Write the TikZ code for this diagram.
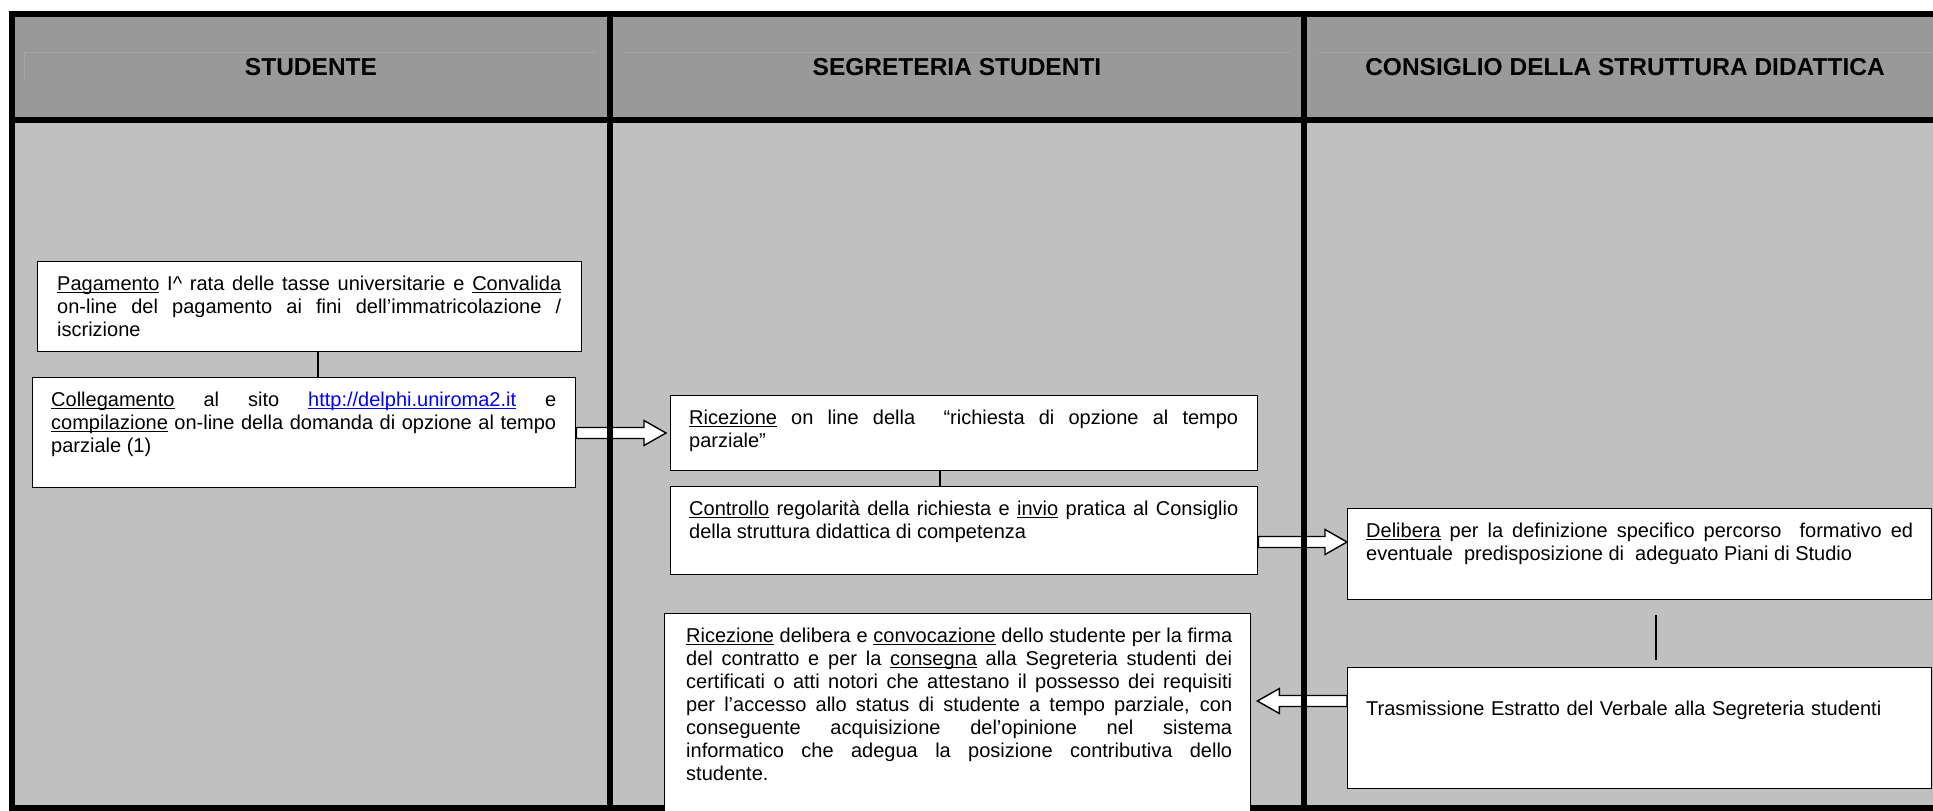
\documentclass[tikz,border=0pt]{standalone}
\usepackage{fontspec}
\setmainfont{Liberation Sans}
\usetikzlibrary{calc}
\definecolor{hdr}{HTML}{999999}
\definecolor{bdy}{HTML}{C0C0C0}
\definecolor{faint}{HTML}{A3A3A3}
\definecolor{link}{HTML}{0000FF}
\pgfdeclarelayer{bg}
\pgfdeclarelayer{arr}
\pgfdeclarelayer{lines}
\pgfsetlayers{bg,arr,lines,main}
\tolerance=10000
\hyphenpenalty=10000
\exhyphenpenalty=10000
\newcommand{\ulw}[1]{\leavevmode\setbox0\hbox{#1}\rlap{\rule[-2.6pt]{\wd0}{1.3pt}}\box0\relax}
\newcommand{\barrow}[3]{%
  \path[barr] let \p1=(#1), \p2=(#2) in
   (\x1,{\y1+5.5pt}) -- ({\x2-(#3)},{\y1+5.5pt}) -- ({\x2-(#3)},{\y1+12.5pt}) -- (\x2,\y1)
   -- ({\x2-(#3)},{\y1-12.5pt}) -- ({\x2-(#3)},{\y1-5.5pt}) -- (\x1,{\y1-5.5pt}) -- cycle;}
\begin{document}
\begin{tikzpicture}[x=1pt,y=-1pt,
  box/.style={draw=black, line width=1.4pt, fill=white, anchor=north west, inner sep=0pt},
  txt/.style={anchor=north west, inner sep=0pt, align=justify, font=\fontsize{20}{23}\selectfont},
  hdrtxt/.style={font=\fontsize{24.5}{28}\selectfont\bfseries},
  frameline/.style={line width=6pt, black},
  conn/.style={line width=1.3pt, black},
  barr/.style={draw=black, line width=1.4pt, fill=white, line join=miter}]
\useasboundingbox (0,0) rectangle (1933,811);

\begin{pgfonlayer}{bg}
  \fill[hdr] (12,13.5) rectangle (1946,120);
  \fill[bdy] (12,120) rectangle (1946,808);
  \draw[faint, line width=1pt] (24,81) -- (24,52) -- (596,52);
  \draw[faint, line width=1pt] (624,52) -- (1291,52);
  \draw[faint, line width=1pt] (1318,52) -- (1940,52);
\end{pgfonlayer}

\begin{pgfonlayer}{lines}
  \draw[frameline] (12,13.5) rectangle (1946,808);
  \draw[frameline] (12,120) -- (1946,120);
  \draw[frameline] (610,13.5) -- (610,808);
  \draw[frameline] (1304,13.5) -- (1304,808);
\end{pgfonlayer}

% header
\node[hdrtxt] (h1) at (311,67) {STUDENTE};
\node[hdrtxt] (h2) at (957,67) {SEGRETERIA STUDENTI};
\node[hdrtxt] (h3) at (1625,67) {CONSIGLIO DELLA STRUTTURA DIDATTICA};

% boxes
\node[box, minimum width=544pt, minimum height=90pt] (A) at (37,261) {};
\node[box, minimum width=543pt, minimum height=110pt] (B) at (32,377) {};
\node[box, minimum width=587pt, minimum height=75pt] (C) at (670,395) {};
\node[box, minimum width=587pt, minimum height=88pt] (D) at (670,486) {};
\node[box, minimum width=584pt, minimum height=91pt] (E) at (1347,508) {};
\node[box, minimum width=584pt, minimum height=121pt] (F) at (1347,667) {};
\node[box, minimum width=586pt, minimum height=240pt] (G) at (664,613) {};

% texts
\node[txt, text width=504pt] (tA) at ($(A.north west)+(20,13)$) {\strut\ulw{Pagamento} I\textasciicircum{} rata delle tasse universitarie e \ulw{Convalida}\linebreak on-line del pagamento ai fini dell’immatricolazione /\linebreak iscrizione};
\node[txt, text width=505pt] (tB) at ($(B.north west)+(19,13)$) {\strut\ulw{Collegamento} al sito \textcolor{link}{\ulw{http://delphi.uniroma2.it}} e\linebreak \ulw{compilazione} on-line della domanda di opzione al tempo\linebreak parziale (1)};
\node[txt, text width=549pt] (tC) at ($(C.north west)+(19,13)$) {\strut\ulw{Ricezione} on line della\ \ “richiesta di opzione al tempo\linebreak parziale”};
\node[txt, text width=549pt] (tD) at ($(D.north west)+(19,13)$) {\strut\ulw{Controllo} regolarità della richiesta e \ulw{invio} pratica al Consiglio\linebreak della struttura didattica di competenza};
\node[txt, text width=547pt] (tE) at ($(E.north west)+(19,13)$) {\strut\ulw{Delibera} per la definizione specifico percorso\ \ formativo ed\linebreak eventuale\ \ predisposizione di\ \ adeguato Piani di Studio};
\node[txt, text width=547pt, align=left] (tF) at ($(F.north west)+(19,32)$) {\strut Trasmissione Estratto del Verbale alla Segreteria studenti};
\node[txt, text width=546pt] (tG) at ($(G.north west)+(22,13)$) {\strut\ulw{Ricezione} delibera e \ulw{convocazione} dello studente per la firma\linebreak del contratto e per la \ulw{consegna} alla Segreteria studenti dei\linebreak certificati o atti notori che attestano il possesso dei requisiti\linebreak per l’accesso allo status di studente a tempo parziale, con\linebreak conseguente acquisizione del’opinione nel sistema\linebreak informatico che adegua la posizione contributiva dello\linebreak studente.};

% thin connectors
\draw[conn] (A.south -| 318,0) -- (B.north -| 318,0);
\draw[conn] (C.south -| 940,0) -- (D.north -| 940,0);
\coordinate (ef1) at ($(E.south -| 1656,0)+(0,15)$);
\coordinate (ef2) at ($(F.north -| 1656,0)+(0,-7)$);
\draw[conn] (ef1) -- (ef2);

% block arrows
\coordinate (bc1) at (B.east |- 0,433);
\coordinate (bc2) at ($(C.west |- 0,433)+(-4,0)$);
\coordinate (de1) at (D.east |- 0,542);
\coordinate (de2) at (E.west |- 0,542);
\coordinate (fg1) at (F.west |- 0,701);
\coordinate (fg2) at ($(G.east |- 0,701)+(6,0)$);
\begin{pgfonlayer}{arr}
  \barrow{bc1}{bc2}{22pt}
  \barrow{de1}{de2}{22pt}
  \barrow{fg1}{fg2}{-22pt}
\end{pgfonlayer}
\end{tikzpicture}
\end{document}
